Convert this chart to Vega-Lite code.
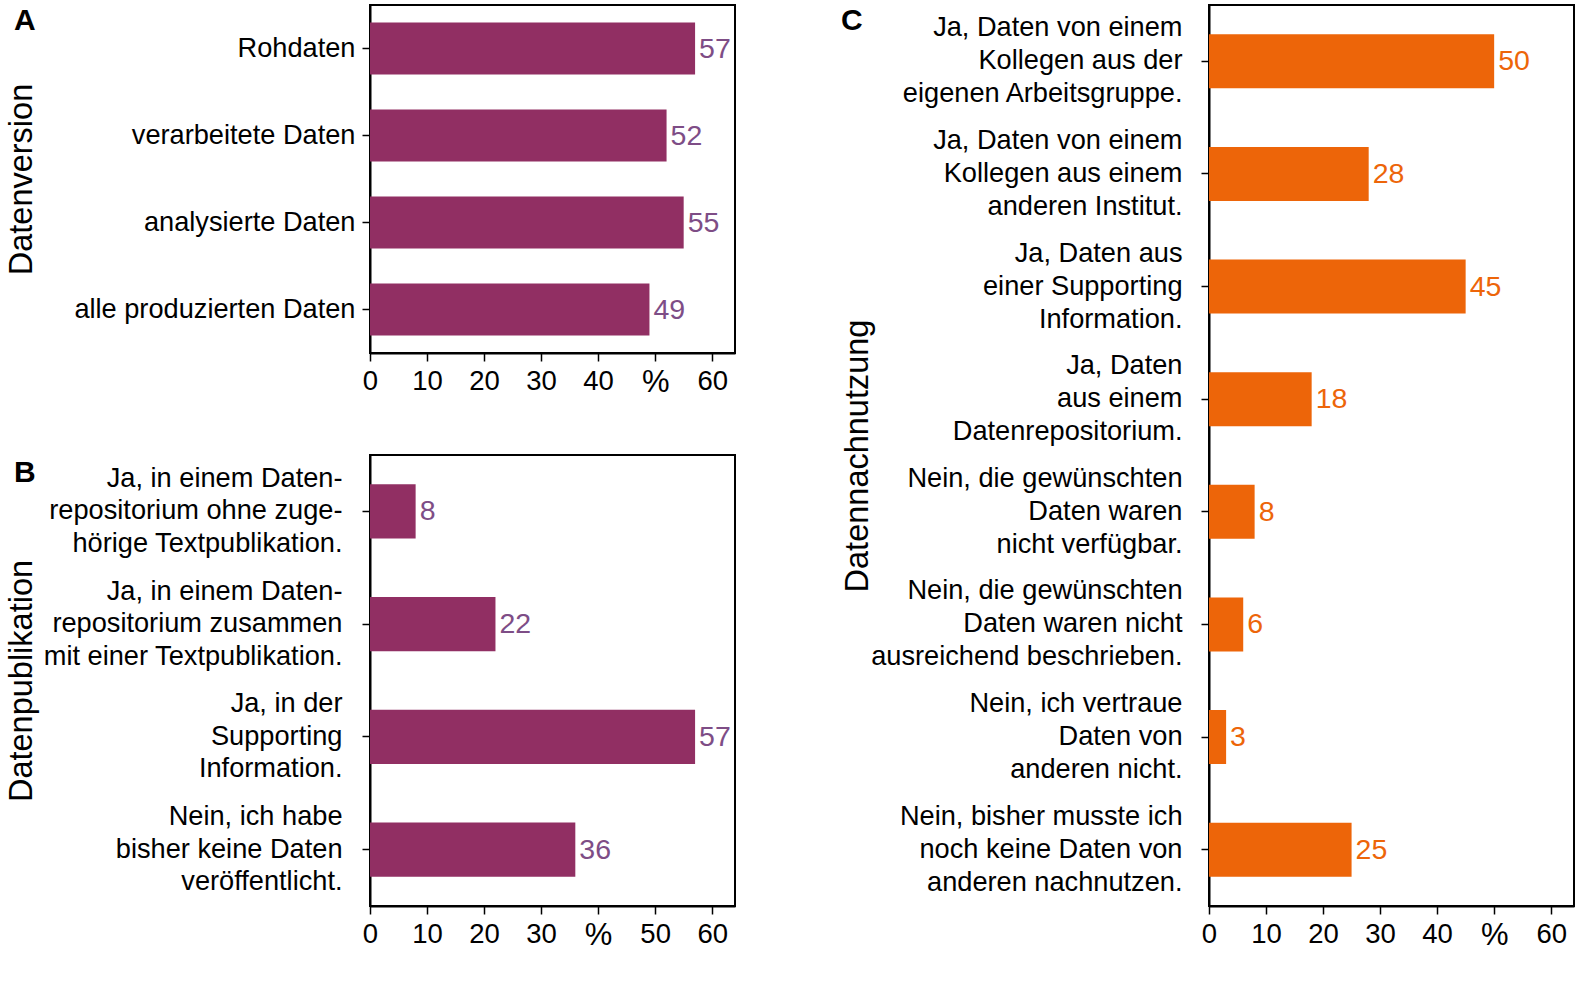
{
  "$schema": "https://vega.github.io/schema/vega-lite/v6.json",
  "padding": {"left": 4, "top": 4, "right": 5, "bottom": 5},
  "background": "white",
  "datasets": {
    "version": [
      {"cat": "Rohdaten", "value": 57},
      {"cat": "verarbeitete Daten", "value": 52},
      {"cat": "analysierte Daten", "value": 55},
      {"cat": "alle produzierten Daten", "value": 49}
    ],
    "publikation": [
      {"cat": "Ja, in einem Daten-|repositorium ohne zuge-|hörige Textpublikation.", "value": 8},
      {"cat": "Ja, in einem Daten-|repositorium zusammen|mit einer Textpublikation.", "value": 22},
      {"cat": "Ja, in der|Supporting|Information.", "value": 57},
      {"cat": "Nein, ich habe|bisher keine Daten|veröffentlicht.", "value": 36}
    ],
    "nachnutzung": [
      {"cat": "Ja, Daten von einem|Kollegen aus der|eigenen Arbeitsgruppe.", "value": 50},
      {"cat": "Ja, Daten von einem|Kollegen aus einem|anderen Institut.", "value": 28},
      {"cat": "Ja, Daten aus|einer Supporting|Information.", "value": 45},
      {"cat": "Ja, Daten|aus einem|Datenrepositorium.", "value": 18},
      {"cat": "Nein, die gewünschten|Daten waren|nicht verfügbar.", "value": 8},
      {"cat": "Nein, die gewünschten|Daten waren nicht|ausreichend beschrieben.", "value": 6},
      {"cat": "Nein, ich vertraue|Daten von|anderen nicht.", "value": 3},
      {"cat": "Nein, bisher musste ich|noch keine Daten von|anderen nachnutzen.", "value": 25}
    ]
  },
  "hconcat": [
    {
      "vconcat": [
        {
          "title": {"text": "A", "anchor": "start", "frame": "bounds", "dx": 9, "dy": 35},
          "width": 365,
          "height": 348,
          "data": {"name": "version"},
          "encoding": {
            "y": {
              "field": "cat", "type": "nominal", "sort": null,
              "scale": {"paddingInner": 0.4, "paddingOuter": 0.2},
              "axis": {"title": "Datenversion", "labelPadding": 7, "minExtent": 330, "maxExtent": 330, "titlePadding": 2, "labelExpr": "split(datum.label, '|')"}
            },
            "x": {
              "field": "value", "type": "quantitative",
              "scale": {"domain": [0, 64], "nice": false},
              "axis": {
                "title": null, "values": [0, 10, 20, 30, 40, 50, 60],
                "labelExpr": "datum.value == 50 ? '%' : datum.label",
                "labelFontSize": {"condition": {"test": "datum.value == 50", "value": 31}, "value": 27.5}
              }
            }
          },
          "layer": [
            {"mark": {"type": "bar", "color": "#912f63"}},
            {"mark": {"type": "text", "align": "left", "baseline": "middle", "dx": 4, "color": "#7e4d86", "fontSize": 28.5, "font": "Liberation Sans"}, "encoding": {"text": {"field": "value", "type": "quantitative"}}}
          ]
        },
        {
          "title": {"text": "B", "anchor": "start", "frame": "bounds", "dx": 9, "dy": 37},
          "width": 365,
          "height": 451,
          "data": {"name": "publikation"},
          "encoding": {
            "y": {
              "field": "cat", "type": "nominal", "sort": null,
              "scale": {"paddingInner": 0.52, "paddingOuter": 0.26},
              "axis": {"title": "Datenpublikation", "labelPadding": 20, "labelLineHeight": 32.5, "labelOffset": -32.5, "minExtent": 330, "maxExtent": 330, "titlePadding": 2, "labelExpr": "split(datum.label, '|')"}
            },
            "x": {
              "field": "value", "type": "quantitative",
              "scale": {"domain": [0, 64], "nice": false},
              "axis": {
                "title": null, "values": [0, 10, 20, 30, 40, 50, 60],
                "labelExpr": "datum.value == 40 ? '%' : datum.label",
                "labelFontSize": {"condition": {"test": "datum.value == 40", "value": 31}, "value": 27.5}
              }
            }
          },
          "layer": [
            {"mark": {"type": "bar", "color": "#912f63"}},
            {"mark": {"type": "text", "align": "left", "baseline": "middle", "dx": 4, "color": "#7e4d86", "fontSize": 28.5, "font": "Liberation Sans"}, "encoding": {"text": {"field": "value", "type": "quantitative"}}}
          ]
        }
      ],
      "spacing": 56,
      "resolve": {"scale": {"y": "independent"}}
    },
    {
      "title": {"text": "C", "anchor": "start", "frame": "bounds", "dx": 0, "dy": 35},
      "width": 365,
      "height": 901,
      "data": {"name": "nachnutzung"},
      "encoding": {
        "y": {
          "field": "cat", "type": "nominal", "sort": null,
          "scale": {"paddingInner": 0.52, "paddingOuter": 0.26},
          "axis": {"title": "Datennachnutzung", "labelPadding": 19, "labelLineHeight": 33, "labelOffset": -33, "minExtent": 334, "maxExtent": 334, "titlePadding": 1, "labelExpr": "split(datum.label, '|')"}
        },
        "x": {
          "field": "value", "type": "quantitative",
          "scale": {"domain": [0, 64], "nice": false},
          "axis": {
            "title": null, "values": [0, 10, 20, 30, 40, 50, 60],
            "labelExpr": "datum.value == 50 ? '%' : datum.label",
            "labelFontSize": {"condition": {"test": "datum.value == 50", "value": 31}, "value": 27.5}
          }
        }
      },
      "layer": [
        {"mark": {"type": "bar", "color": "#ed6509"}},
        {"mark": {"type": "text", "align": "left", "baseline": "middle", "dx": 4, "color": "#ed6509", "fontSize": 28.5, "font": "Liberation Sans"}, "encoding": {"text": {"field": "value", "type": "quantitative"}}}
      ]
    }
  ],
  "spacing": 104,
  "resolve": {"scale": {"y": "independent"}},
  "config": {
    "view": {"stroke": "black", "strokeWidth": 2},
    "title": {"font": "Liberation Sans", "fontSize": 30, "fontWeight": "bold", "color": "black", "offset": 0},
    "axis": {
      "grid": false,
      "labelFont": "Liberation Sans",
      "labelFontSize": 27.2,
      "labelColor": "black",
      "labelLimit": 400,
      "titleFont": "Liberation Sans",
      "titleFontSize": 32.5,
      "titleFontWeight": "normal",
      "titleColor": "black",
      "tickColor": "black",
      "tickSize": 8,
      "tickWidth": 1.5,
      "domainColor": "black",
      "domainWidth": 2
    },
    "axisX": {"labelPadding": 6, "labelFlush": false}
  }
}
